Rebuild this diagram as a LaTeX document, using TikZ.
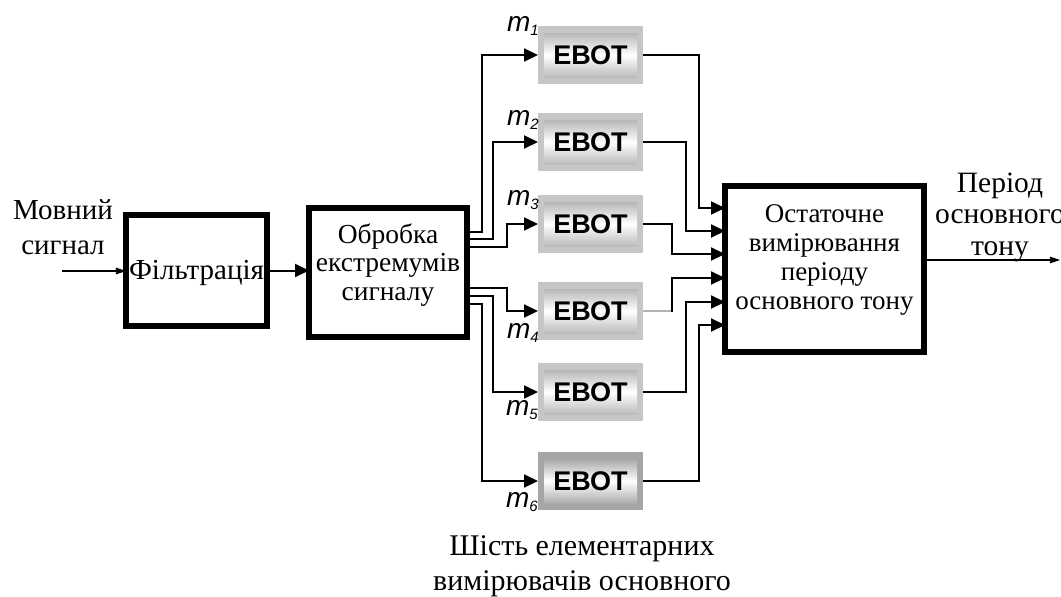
\documentclass[tikz,border=0pt]{standalone}
\usepackage{fontspec}
\setmainfont{Liberation Serif}
\setsansfont{Liberation Sans}
\usetikzlibrary{arrows.meta}
\begin{document}
\begin{tikzpicture}[x=1pt,y=-1pt,
  blk/.style={rectangle,draw=black,line width=6pt,inner sep=0pt,outer sep=0pt,align=center},
  lbl/.style={inner sep=0pt,outer sep=0pt,align=center},
  ebot/.style={rectangle,minimum width=105pt,minimum height=58pt,inner sep=0pt,outer sep=0pt,
    fill=gray!45,font=\sffamily\bfseries\fontsize{27}{30}\selectfont,
    path picture={\shade[top color=gray!75,bottom color=gray!70,middle color=white]
      ([shift={(6pt,-7pt)}]path picture bounding box.north west) rectangle
      ([shift={(-6pt,7pt)}]path picture bounding box.south east);}},
  ebotdark/.style={ebot,fill=gray!70,
    path picture={\shade[top color=gray!90,bottom color=gray!85,middle color=white]
      ([shift={(6pt,-7pt)}]path picture bounding box.north west) rectangle
      ([shift={(-6pt,7pt)}]path picture bounding box.south east);}},
  mlbl/.style={inner sep=0pt,outer sep=0pt,anchor=base west,font=\sffamily\itshape\fontsize{28}{30}\selectfont},
  conn/.style={draw=black,line width=2pt},
  tri/.style={-{Triangle[length=14pt,width=13pt]}},
  barb/.style={-{Stealth[length=22pt,width=15pt,inset=15pt]}}
]
\useasboundingbox (0,0) rectangle (1061,597);

% main blocks
\node[blk,minimum width=141pt,minimum height=111pt,font=\fontsize{29}{31}\selectfont] (filt) at (196.5,270.5)
  {\rule{0pt}{25pt}Фільтрація\rule[-6pt]{0pt}{6pt}};
\node[blk,minimum width=158pt,minimum height=129pt,font=\fontsize{27.5}{28.5}\selectfont] (proc) at (388,272.5)
  {\rule{0pt}{20pt}Обробка\\екстремумів\\сигналу\rule[-22pt]{0pt}{22pt}};
\node[blk,minimum width=199pt,minimum height=166pt,font=\fontsize{27}{29}\selectfont] (fin) at (824.5,269)
  {\rule{0pt}{20pt}Остаточне\\вимірювання\\періоду\\основного тону\rule[-27pt]{0pt}{27pt}};

% EBOT blocks
\node[ebot] (e1) at (590.5,55) {ЕВОТ};
\node[ebot] (e2) at (590.5,142) {ЕВОТ};
\node[ebot] (e3) at (590.5,224) {ЕВОТ};
\node[ebot] (e4) at (590.5,311) {ЕВОТ};
\node[ebot] (e5) at (590.5,392) {ЕВОТ};
\node[ebotdark] (e6) at (590.5,481) {ЕВОТ};

% m labels
\node[mlbl] (m1) at (507,31) {m\raisebox{-4pt}{\fontsize{15}{15}\selectfont 1}};
\node[mlbl] (m2) at (507,125) {m\raisebox{-4pt}{\fontsize{15}{15}\selectfont 2}};
\node[mlbl] (m3) at (507,205) {m\raisebox{-4pt}{\fontsize{15}{15}\selectfont 3}};
\node[mlbl] (m4) at (507,338) {m\raisebox{-4pt}{\fontsize{15}{15}\selectfont 4}};
\node[mlbl] (m5) at (506,415) {m\raisebox{-4pt}{\fontsize{15}{15}\selectfont 5}};
\node[mlbl] (m6) at (506,507) {m\raisebox{-4pt}{\fontsize{15}{15}\selectfont 6}};

% free text
\node[lbl,anchor=north,font=\fontsize{29}{35}\selectfont] (sig) at (63,199) {\rule{0pt}{20pt}Мовний\\сигнал};
\node[lbl,anchor=north,font=\fontsize{29.5}{31.5}\selectfont] (per) at (1000,172) {\rule{0pt}{20pt}Період\\основного\\тону};
\node[lbl,anchor=north,font=\fontsize{30}{35}\selectfont] (cap) at (582,535) {\rule{0pt}{20pt}Шість елементарних\\вимірювачів основного};

% helper coordinates
\coordinate (in) at (62,271);
\coordinate (out) at (1060,260);
\coordinate (t1) at (0,232);
\coordinate (t2) at (0,239);
\coordinate (t3) at (0,247);
\coordinate (t4) at (0,288);
\coordinate (t5) at (0,296);
\coordinate (t6) at (0,304);
\coordinate (a1) at (0,208);
\coordinate (a2) at (0,231);
\coordinate (a3) at (0,254);
\coordinate (a4) at (0,278);
\coordinate (a5) at (0,302);
\coordinate (a6) at (0,325);

% connectors
\draw[conn,barb] (in) -- (filt.west |- in);
\draw[conn,tri] (filt.east) -- (filt.east -| proc.west);

\draw[conn,tri] (proc.east |- t1) -- ++(15,0) |- (e1.west);
\draw[conn,tri] (proc.east |- t2) -- ++(26,0) |- (e2.west);
\draw[conn,tri] (proc.east |- t3) -- ++(40,0) |- (e3.west);
\draw[conn,tri] (proc.east |- t4) -- ++(40,0) |- (e4.west);
\draw[conn,tri] (proc.east |- t5) -- ++(26,0) |- (e5.west);
\draw[conn,tri] (proc.east |- t6) -- ++(15,0) |- (e6.west);

\draw[conn,tri] (e1.east) -- ++(56,0) |- (fin.west |- a1);
\draw[conn,tri] (e2.east) -- ++(43,0) |- (fin.west |- a2);
\draw[conn,tri] (e3.east) -- ++(29,0) |- (fin.west |- a3);
\draw[draw=gray!60,line width=1.5pt] (e4.east) -- ++(29,0) coordinate (k4);
\draw[conn,tri,line cap=rect] (k4) |- (fin.west |- a4);
\draw[conn,tri] (e5.east) -- ++(43,0) |- (fin.west |- a5);
\draw[conn,tri] (e6.east) -- ++(56,0) |- (fin.west |- a6);

\draw[conn,barb] (fin.east |- out) -- (out);
\end{tikzpicture}
\end{document}
